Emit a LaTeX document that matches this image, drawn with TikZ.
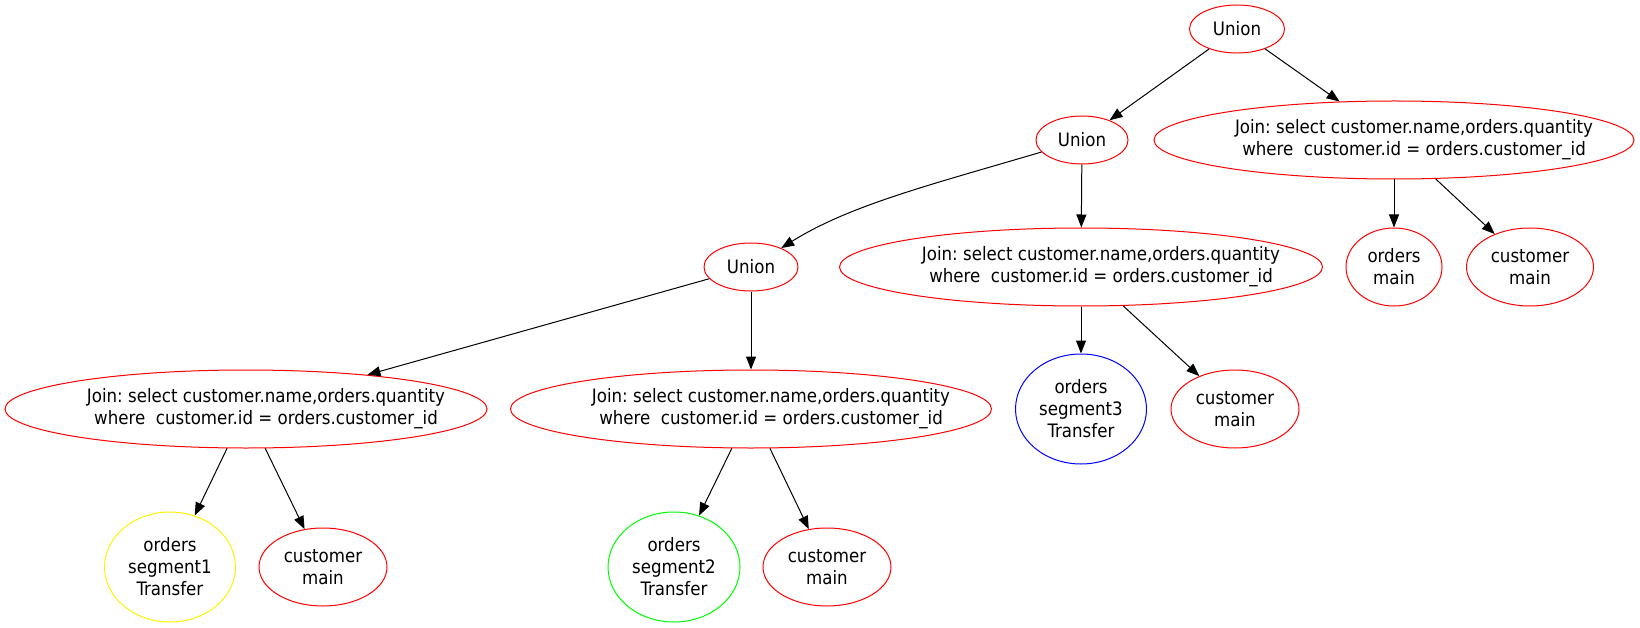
\documentclass[tikz,border=0pt]{standalone}
\usepackage{fontspec}
\setmainfont{DejaVu Sans Condensed}
\usepackage{tikz}
\usetikzlibrary{arrows.meta}
\usetikzlibrary{shapes.geometric}
\frenchspacing
\tikzset{
    opnode/.style={ellipse, draw=red, line width=1pt, inner sep=0pt,
        font=\fontsize{18.5}{22}\selectfont, align=center},
    unionnode/.style={opnode, minimum height=48pt},
    joinnode/.style={opnode, minimum height=78pt},
    scannode/.style={opnode, minimum height=78pt},
    segnode/.style={opnode, minimum width=131pt, minimum height=110pt},
    jointext/.style={font=\fontsize{18.5}{22}\selectfont, align=center, xshift=20pt},
    flow/.style={line width=1pt, -{Triangle[length=13pt,width=10pt]}},
}
\newcommand{\jointxt}{Join: select customer.name,orders.quantity\\where\ \ customer.id = orders.customer\_id}

\begin{document}
\begin{tikzpicture}[x=1pt, y=-1pt]
\useasboundingbox (0,0) rectangle (1640,628);
% union nodes
\node[unionnode, minimum width=95pt] (u1) at (1237,29) {Union};
\node[unionnode, minimum width=92pt] (u2) at (1082,140) {Union};
\node[unionnode, minimum width=94pt] (u3) at (751,267) {Union};
% join nodes
\node[joinnode, minimum width=482pt, label={[jointext]center:{\jointxt}}] (j1) at (246,409) {};
\node[joinnode, minimum width=481pt, label={[jointext]center:{\jointxt}}] (j2) at (751,409) {};
\node[joinnode, minimum width=483pt, label={[jointext]center:{\jointxt}}] (j3) at (1081,267) {};
\node[joinnode, minimum width=480pt, label={[jointext]center:{\jointxt}}] (j4) at (1394,140) {};
% scans
\node[segnode, draw=yellow] (s1) at (170,567) {orders\\segment1\\Transfer};
\node[scannode, minimum width=128pt] (c1) at (323,567) {customer\\main};
\node[segnode, draw=green, minimum width=132pt] (s2) at (674,567) {orders\\segment2\\Transfer};
\node[scannode, minimum width=128pt] (c2) at (827,567) {customer\\main};
\node[segnode, draw=blue] (s3) at (1081,409) {orders\\segment3\\Transfer};
\node[scannode, minimum width=128pt] (c3) at (1235,409) {customer\\main};
\node[scannode, minimum width=96pt] (o4) at (1394,267) {orders\\main};
\node[scannode, minimum width=127pt] (c4) at (1530,267) {customer\\main};

\draw[flow] (u1) -- (u2);
\draw[flow] (u1) -- (j4);
\draw[flow] (u2) .. controls (930,185) and (850,205) .. (u3);
\draw[flow] (u2) -- (j3);
\draw[flow] (u3) -- (j1);
\draw[flow] (u3) -- (j2);
\draw[flow] (j1) -- (s1);
\draw[flow] (j1) -- (c1);
\draw[flow] (j2) -- (s2);
\draw[flow] (j2) -- (c2);
\draw[flow] (j3) -- (s3);
\draw[flow] (j3) -- (c3);
\draw[flow] (j4) -- (o4);
\draw[flow] (j4) -- (c4);
\end{tikzpicture}
\end{document}
